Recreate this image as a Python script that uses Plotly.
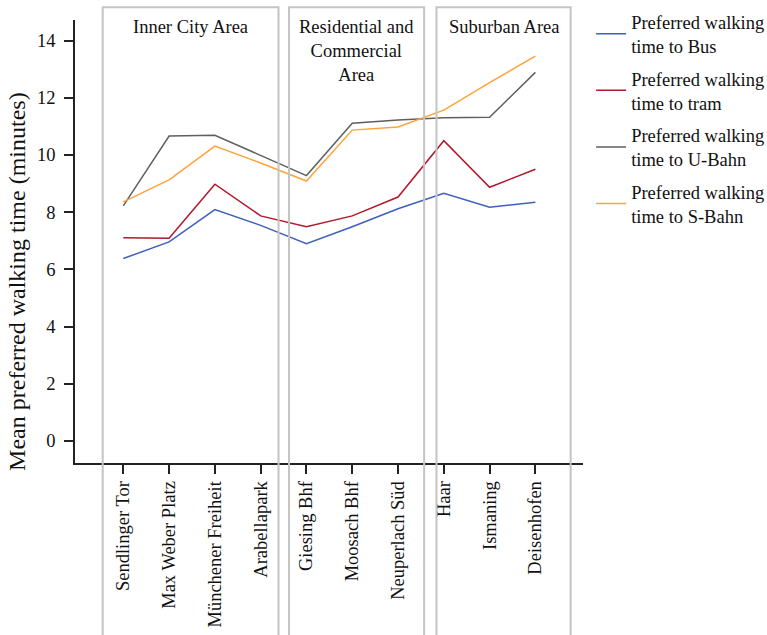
import plotly.graph_objects as go

stations = ["Sendlinger Tor", "Max Weber Platz", "Münchener Freiheit", "Arabellapark",
            "Giesing Bhf", "Moosach Bhf", "Neuperlach Süd",
            "Haar", "Ismaning", "Deisenhofen"]

bus = [6.38, 6.96, 8.09, 7.54, 6.90, 7.49, 8.12, 8.66, 8.17, 8.35]
tram = [7.11, 7.09, 8.98, 7.87, 7.49, 7.87, 8.53, 10.50, 8.87, 9.50]
ubahn = [8.22, 10.66, 10.69, 9.98, 9.28, 11.11, 11.22, 11.30, 11.32, 12.89]
sbahn = [8.36, 9.13, 10.31, 9.72, 9.09, 10.87, 10.98, 11.57, 12.53, 13.46]

series_names = ["Preferred walking<br>time to Bus", "Preferred walking<br>time to tram",
                "Preferred walking<br>time to U-Bahn", "Preferred walking<br>time to S-Bahn"]
series_colors = ["#3f5fbf", "#b2182b", "#5f5f5f", "#ffa23a"]

areas = ["Inner City Area", "Residential and<br>Commercial<br>Area", "Suburban Area"]
area_bounds = [(-0.45, 3.39), (3.62, 6.57), (6.84, 9.77)]

y_title = "Mean preferred walking time (minutes)"

FONT = "Liberation Serif"

fig = go.Figure()
for i, (name, vals, col) in enumerate(zip(series_names, [bus, tram, ubahn, sbahn], series_colors)):
    fig.add_trace(go.Scatter(x=stations, y=vals, mode="lines", name=name, legendgroup=f"g{i}",
                             line=dict(color=col, width=1.5)))

shapes = []
annotations = []
for label, (a, b) in zip(areas, area_bounds):
    shapes.append(dict(type="rect", xref="x", yref="paper", x0=a, x1=b, y0=-0.45, y1=1.029,
                       line=dict(color="#c4c4c4", width=2), fillcolor="rgba(0,0,0,0)", layer="above"))
    annotations.append(dict(x=(a + b) / 2, y=1.012, xref="x", yref="paper", text=label,
                            showarrow=False, yanchor="top", xanchor="center",
                            font=dict(size=18.5, color="#111", family=FONT)))
annotations.append(dict(x=-0.114, y=0.409, xref="paper", yref="paper", text=y_title,
                        textangle=-90, showarrow=False, xanchor="center", yanchor="middle",
                        font=dict(size=24, color="#111", family=FONT)))

fig.update_layout(
    width=767, height=635,
    margin=dict(l=75, r=184, t=20, b=172, autoexpand=False),
    paper_bgcolor="white", plot_bgcolor="white",
    font=dict(family=FONT, size=18.5, color="#111"),
    shapes=shapes, annotations=annotations,
    legend=dict(x=1.016, y=1.038, xanchor="left", yanchor="top",
                font=dict(size=18.5, family=FONT, color="#111"),
                tracegroupgap=5.5, itemwidth=30, bgcolor="rgba(0,0,0,0)"),
    showlegend=True,
)
fig.update_xaxes(type="category", range=[-1.055, 10.04], showgrid=False, zeroline=False,
                 showline=True, linecolor="#222", linewidth=1.5, automargin=False,
                 ticks="outside", ticklen=9, tickcolor="#222", tickwidth=1.5,
                 ticklabelstandoff=0,
                 tickangle=-90, tickfont=dict(size=18.5, family=FONT, color="#111"))
fig.update_yaxes(range=[-0.77, 14.72], showgrid=False, zeroline=False,
                 showline=True, linecolor="#222", linewidth=1.5, automargin=False,
                 ticks="outside", ticklen=9, tickcolor="#222", tickwidth=1.5,
                 ticklabelstandoff=5,
                 tickvals=[0, 2, 4, 6, 8, 10, 12, 14],
                 tickfont=dict(size=18.5, family=FONT, color="#111"))

fig.write_html("out.html", config={"displayModeBar": False},
               post_script="document.body.style.margin='0';document.body.style.overflow='hidden';")
